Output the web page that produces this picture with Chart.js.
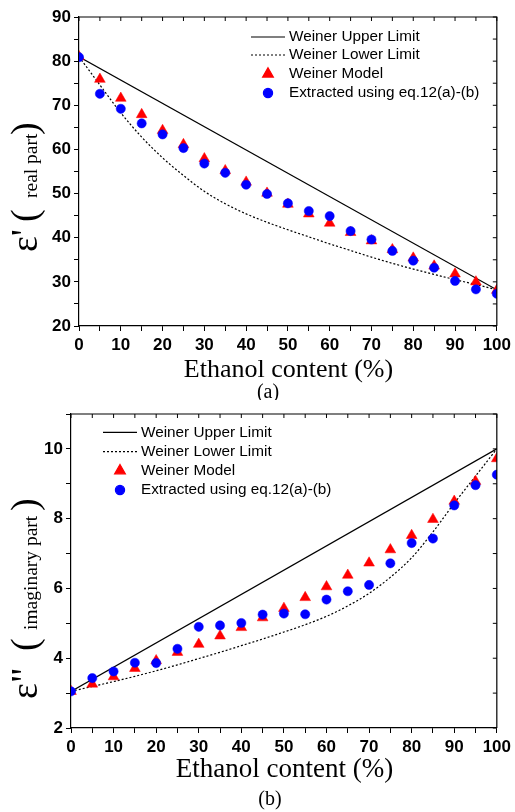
<!DOCTYPE html>
<html><head><meta charset="utf-8">
<script src="https://cdn.jsdelivr.net/npm/chart.js@4.4.1/dist/chart.umd.min.js"></script>
<style>
html,body{margin:0;padding:0;background:#fff;}
#wrap{position:relative;width:515px;height:812px;overflow:hidden;background:#fff;}
.panel{position:absolute;left:0;width:515px;}
</style></head><body>
<div id="wrap">
<div class="panel" style="top:0;height:400px"><canvas id="ca" width="515" height="400"></canvas></div>
<div class="panel" style="top:400px;height:412px"><canvas id="cb" width="515" height="412"></canvas></div>
</div>
<script>
// ---------- data ----------
const ethanol = [0,5,10,15,20,25,30,35,40,45,50,55,60,65,70,75,80,85,90,95,100];
const limitX = [0,100];

// panel (a) real part
const realUpper = [81,28.2];
const realLower = [81,74.6,68.3,62.8,58.1,54.1,50.5,47.7,45.4,43.5,41.8,40.2,38.6,37.1,35.6,34.2,32.9,31.7,30.5,29.4,28.2];
const realWeiner = [81.0,75.9,71.6,67.9,64.3,61.1,57.9,55.2,52.6,50.1,47.6,45.4,43.3,41.2,39.3,37.3,35.4,33.6,31.8,30.0,28.1];
const realExtracted = [80.9,72.6,69.2,65.9,63.4,60.3,56.8,54.7,52.0,49.9,47.8,46.05,44.9,41.5,39.6,37.0,34.8,33.2,30.2,28.3,27.3];

// panel (b) imaginary part
const imagUpper = [3.05,10.0];
const imagLower = [3.05,3.19,3.33,3.48,3.64,3.81,3.99,4.17,4.36,4.55,4.75,4.96,5.20,5.50,5.86,6.32,6.88,7.62,8.44,9.22,10.0];
const imagWeiner = [3.05,3.26,3.47,3.71,3.93,4.17,4.40,4.64,4.88,5.16,5.43,5.74,6.05,6.38,6.73,7.11,7.52,7.98,8.50,9.07,9.72];
const imagExtracted = [3.05,3.43,3.62,3.87,3.86,4.27,4.90,4.94,5.01,5.25,5.28,5.26,5.68,5.92,6.10,6.72,7.30,7.43,8.38,8.96,9.26];

const seriesNames = ['Weiner Upper Limit','Weiner Lower Limit','Weiner Model','Extracted using eq.12(a)-(b)'];
const xTicksA = [0,10,20,30,40,50,60,70,80,90,100];
const yTicksA = [20,30,40,50,60,70,80,90];
const yTicksB = [2,4,6,8,10];

const pts = (xs, ys) => xs.map((x, i) => ({x: x, y: ys[i]}));

const SANS = "'Liberation Sans', Arial, sans-serif";
const SERIF = "'Liberation Serif', 'Times New Roman', serif";

const decor = {
  id: 'decor',
  afterDraw(chart, args, o) {
    const ctx = chart.ctx, a = chart.chartArea, xs = chart.scales.x, ys = chart.scales.y;
    ctx.save();
    // top & right frame with inward ticks
    ctx.strokeStyle = '#000'; ctx.lineWidth = 1.2;
    ctx.beginPath();
    ctx.moveTo(a.left, a.top); ctx.lineTo(a.right, a.top); ctx.lineTo(a.right, a.bottom);
    ctx.stroke();
    ctx.lineWidth = 1;
    ctx.beginPath();
    xs.ticks.forEach(t => { const px = xs.getPixelForValue(t.value); ctx.moveTo(px, a.top); ctx.lineTo(px, a.top + 4); });
    ys.ticks.forEach(t => { const py = ys.getPixelForValue(t.value); ctx.moveTo(a.right, py); ctx.lineTo(a.right - 4, py); });
    ctx.stroke();

    // legend
    ctx.font = '15.3px ' + SANS;
    ctx.textBaseline = 'middle'; ctx.textAlign = 'left';
    chart.data.datasets.forEach((ds, i) => {
      const y = a.top + o.legendRows[i];
      const x0 = a.left + o.legendX;
      if (ds.showLine) {
        ctx.strokeStyle = ds.borderColor; ctx.lineWidth = ds.borderWidth;
        ctx.setLineDash(ds.borderDash || []);
        ctx.beginPath(); ctx.moveTo(x0, y); ctx.lineTo(x0 + 34, y); ctx.stroke();
        ctx.setLineDash([]);
      } else {
        ctx.fillStyle = ds.backgroundColor; ctx.strokeStyle = ds.borderColor;
        Chart.helpers.drawPoint(ctx, {pointStyle: ds.pointStyle, radius: ds.pointRadius, rotation: 0, borderWidth: ds.borderWidth}, x0 + 17, y);
      }
      ctx.fillStyle = '#000';
      ctx.fillText(ds.label, x0 + 38, y);
    });

    // x title & caption
    ctx.fillStyle = '#000';
    ctx.textAlign = 'center'; ctx.textBaseline = 'middle';
    ctx.font = o.xTitleSize + 'px ' + SERIF;
    ctx.fillText(o.xTitle, o.xTitlePos[0], o.xTitlePos[1]);
    ctx.font = '20px ' + SERIF;
    ctx.fillText(o.caption, o.captionPos[0], o.captionPos[1]);

    // rotated y title pieces
    ctx.textAlign = 'left'; ctx.textBaseline = 'alphabetic';
    o.yTitle.forEach(p => {
      ctx.save();
      ctx.translate(o.yBaseX, p.start);
      ctx.rotate(-Math.PI / 2);
      ctx.font = p.size + 'px ' + SERIF;
      ctx.fillText(p.text, 0, 0);
      ctx.restore();
    });
    ctx.restore();
  }
};

function makeChart(id, cfg) {
  const datasets = [
    {label: seriesNames[0], data: pts(limitX, cfg.upper), showLine: true, borderColor: '#000', borderWidth: 1.2, pointRadius: 0, order: 3},
    {label: seriesNames[1], data: pts(ethanol, cfg.lower), showLine: true, borderColor: '#000', borderWidth: 1.2, borderDash: [2, 2], pointRadius: 0, cubicInterpolationMode: 'monotone', order: 2},
    {label: seriesNames[2], data: pts(ethanol, cfg.weiner), showLine: false, pointStyle: 'triangle', pointRadius: 6.2, backgroundColor: '#ff0000', borderColor: '#ff0000', borderWidth: 0.5, order: 1},
    {label: seriesNames[3], data: pts(ethanol, cfg.extracted), showLine: false, pointStyle: 'circle', pointRadius: 4.6, backgroundColor: '#0000ff', borderColor: '#0000ff', borderWidth: 0.5, order: 0}
  ];
  return new Chart(document.getElementById(id), {
    type: 'scatter',
    data: {datasets},
    plugins: [decor],
    options: {
      responsive: false, animation: false, devicePixelRatio: 1,
      layout: {padding: {left: 0, top: cfg.top, right: 16, bottom: 0}},
      plugins: {legend: {display: false}, tooltip: {enabled: false}, decor: cfg.decor},
      scales: {
        x: {
          type: 'linear', min: 0, max: 100,
          afterFit: s => { s.height = cfg.xH; },
          border: {display: true, color: '#000', width: 1.2},
          grid: {drawOnChartArea: false, drawTicks: true, tickLength: 5, color: '#000', lineWidth: 1},
          ticks: {stepSize: 5, autoSkip: false, maxRotation: 0, padding: 4, color: '#000',
                  font: {family: SANS, size: 17, weight: 'bold'},
                  callback: v => xTicksA.includes(v) ? String(v) : ''}
        },
        y: {
          type: 'linear', min: cfg.ymin, max: cfg.ymax,
          afterFit: s => { s.width = cfg.yW; },
          border: {display: true, color: '#000', width: 1.2},
          grid: {drawOnChartArea: false, drawTicks: true, tickLength: 5, color: '#000', lineWidth: 1},
          ticks: {stepSize: cfg.ystep, autoSkip: false, padding: 3, color: '#000',
                  font: {family: SANS, size: 17, weight: 'bold'},
                  callback: v => cfg.ylabels.includes(v) ? String(v) : ''}
        }
      }
    }
  });
}

makeChart('ca', {
  upper: realUpper, lower: realLower, weiner: realWeiner, extracted: realExtracted,
  top: 17, xH: 74, yW: 79, ymin: 20, ymax: 90, ystep: 5, ylabels: yTicksA,
  decor: {
    legendX: 172, legendRows: [20, 38, 57, 76],
    xTitle: 'Ethanol content (%)', xTitleSize: 26, xTitlePos: [288.5, 370],
    caption: '(a)', captionPos: [268, 393],
    yBaseX: 37,
    yTitle: [
      {text: "ε'", size: 38, start: 252},
      {text: '(', size: 38, start: 222},
      {text: 'real part', size: 19.5, start: 198},
      {text: ')', size: 38, start: 135}
    ]
  }
});

makeChart('cb', {
  upper: imagUpper, lower: imagLower, weiner: imagWeiner, extracted: imagExtracted,
  top: 14, xH: 84, yW: 71, ymin: 2, ymax: 11, ystep: 1, ylabels: yTicksB,
  decor: {
    legendX: 32, legendRows: [18.3, 37.7, 56.7, 76],
    xTitle: 'Ethanol content (%)', xTitleSize: 27, xTitlePos: [284.5, 370],
    caption: '(b)', captionPos: [270, 400],
    yBaseX: 37,
    yTitle: [
      {text: 'ε"', size: 38, start: 299},
      {text: '(', size: 38, start: 251},
      {text: 'imaginary part', size: 19.5, start: 230},
      {text: ')', size: 38, start: 111}
    ]
  }
});
</script>
</body></html>
